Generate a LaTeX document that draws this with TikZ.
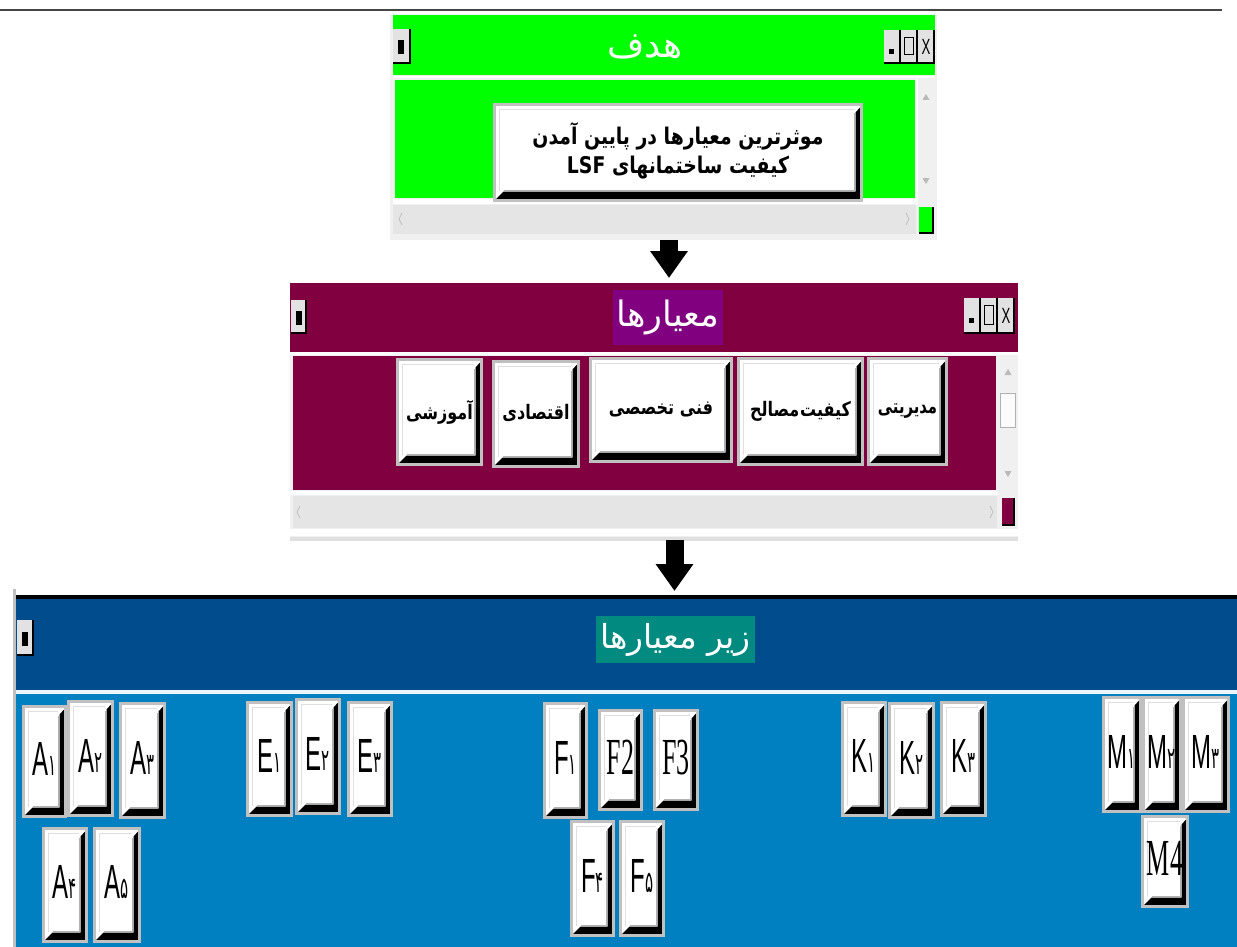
\documentclass[tikz,border=0pt]{standalone}
\usepackage{fontspec}
\usetikzlibrary{arrows.meta,calc}
\TeXXeTstate=1
\newfontfamily\fa[Script=Arabic]{DejaVu Sans}
\newfontfamily\lat{Liberation Sans}
\newfontfamily\ser{Liberation Serif}
\definecolor{gr}{HTML}{00FF00}
\definecolor{maroon}{HTML}{800040}
\definecolor{purp}{HTML}{800080}
\definecolor{dblue}{HTML}{004C8C}
\definecolor{lblue}{HTML}{0080C0}
\definecolor{teal2}{HTML}{008A80}
\definecolor{framec}{HTML}{F0F0F0}
\definecolor{bgray}{HTML}{C0C0C0}
\definecolor{ctrlc}{HTML}{E2E2E2}
\tikzset{
  btn/.style={draw=bgray, line width=3pt, fill=white, inner sep=0pt,
    path picture={
      \fill[black] let \p1=(path picture bounding box.south west), \p2=(path picture bounding box.north east) in
        (\x1+1.5pt,\y1+1.5pt) -- (\x2-1.5pt,\y1+1.5pt) -- (\x2-1.5pt,\y2-3pt) -- (\x2-6pt,\y2-8pt)
        -- (\x2-6pt,\y1+9pt) -- (\x1+9pt,\y1+9pt) -- cycle;
      \draw[gray!60, line width=1.5pt] let \p1=(path picture bounding box.south west), \p2=(path picture bounding box.north east) in
        (\x1+9pt,\y1+10pt) -- (\x2-7pt,\y1+10pt) -- (\x2-7pt,\y2-9pt);
      \draw[gray!25, line width=1.5pt] let \p1=(path picture bounding box.south west), \p2=(path picture bounding box.north east) in
        (\x1+5pt,\y1+10pt) -- (\x1+5pt,\y2-5pt) -- (\x2-8pt,\y2-5pt);
    }},
  wtitle/.style={text=white, inner sep=0pt, font=\fa},
  ctrl/.style={fill=ctrlc},
  shadowline/.style={black, line width=2pt},
  scrollarrow/.style={fill=gray!55, draw=none},
  bigarrow/.style={line width=18pt, -{Triangle[width=36pt,length=27pt]}},
}
\newcommand\btnat[6]{\node[btn, minimum width={(#4-#2-3)*1pt}, minimum height={(#5-#3-3)*1pt}] (#1) at ({(#2+#4)/2},{(#3+#5)/2}) {#6};}
\newcommand\lab[2]{\raisebox{6pt}{\scalebox{0.5}[1]{\fontsize{48}{48}\selectfont\lat #1\fa\fontsize{30}{30}\selectfont #2}}}
\newcommand\labs[1]{\raisebox{6pt}{\scalebox{0.5}[1]{\fontsize{52}{52}\selectfont\ser #1}}}
\newcommand\mlab[2][0.8]{\raisebox{4pt}{\scalebox{#1}[1]{\fa\bfseries\fontsize{20}{20}\selectfont\beginR #2\endR}}}
% small window buttons
\newcommand\sysbtn[4]{% x0 y0 x1 y1
  \fill[ctrlc] (#1,#2) rectangle (#3,#4);
  \draw[shadowline] (#1,#4) -- (#3,#4) -- (#3,#2);}
\newcommand\ctrls[3]{% x0 y0 y1 : three buttons of width 17
  \sysbtn{#1}{#2}{#1+16}{#3}
  \sysbtn{#1+17}{#2}{#1+33}{#3}
  \sysbtn{#1+34}{#2}{#1+50}{#3}
  \fill[black] ({#1+5},{#2+(#3-#2)*0.58}) rectangle ({#1+10},{#2+(#3-#2)*0.72});
  \draw[black, line width=1.3pt] ({#1+20.5},{#2+(#3-#2)*0.22}) rectangle ({#1+29.5},{#2+(#3-#2)*0.75});
  \node[inner sep=0pt] at ({#1+42},{(#2+#3)/2}) {\scalebox{0.6}[1]{\lat\fontsize{22}{22}\selectfont X}};}
\newcommand\leftbtn[4]{%
  \sysbtn{#1}{#2}{#3}{#4}
  \fill[black] ({#1+5},{#2+(#4-#2)*0.33}) rectangle ({#1+11},{#2+(#4-#2)*0.75});}
\newcommand\uptri[3]{\fill[scrollarrow] (#1-3.5,#2+3) -- (#1+3.5,#2+3) -- (#1,#2-3) -- cycle;}
\newcommand\dntri[3]{\fill[scrollarrow] (#1-3.5,#2-3) -- (#1+3.5,#2-3) -- (#1,#2+3) -- cycle;}
\newcommand\lftri[2]{\draw[gray!50, line width=0.8pt] (#1+2,#2-6) -- (#1-1,#2) -- (#1+2,#2+6);}
\newcommand\rttri[2]{\draw[gray!50, line width=0.8pt] (#1-2,#2-6) -- (#1+1,#2) -- (#1-2,#2+6);}
\begin{document}
\begin{tikzpicture}[x=1pt,y=-1pt]
\useasboundingbox (0,0) rectangle (1237,947);
\fill[white] (0,0) rectangle (1237,947);
\fill[gray!55!black] (0,9) rectangle (1222,11.5);

% ================= window 1 (goal) =================
\node[fill=framec, minimum width=547pt, minimum height=226pt, inner sep=0pt, anchor=north west] (gwin) at (390,14) {};
\fill[gr] (393,15) rectangle (935,75);
\fill[white] (393,76) rectangle (935,78);
\fill[gr] (395,80) rectangle (915,198);
\fill[white] (393,199) rectangle (917,204);
\fill[white] (916,79) rectangle (918,205);
\fill[framec!90!gray] (393,205) rectangle (916,234);
\fill[gr] (919,207) rectangle (933,233);
\draw[shadowline] (919,233) -- (933,233) -- (933,207);
\uptri{926}{97}{}
\dntri{926}{181}{}
\lftri{400}{219}
\rttri{908}{219}
\leftbtn{393}{29}{410}{63}
\ctrls{884}{30}{63}
\node[wtitle, font=\fa\fontsize{36}{36}\selectfont] (gtitle) at (645,47) {\beginR هدف\endR};
\btnat{goal}{493}{103}{863}{202}{\raisebox{5pt}{\scalebox{0.82}[1]{\fa\bfseries\fontsize{23}{29}\selectfont
  \begin{tabular}{@{}c@{}}\beginR موثرترین معیارها در پایین آمدن\endR\\ \beginR کیفیت ساختمانهای \beginL LSF\endL\endR\end{tabular}}}}

% arrow 1
\coordinate (a1s) at (669,240);
\coordinate (a1e) at (669,278);
\draw[bigarrow] (a1s) -- (a1e);

% ================= window 2 (criteria) =================
\node[fill=framec, minimum width=728pt, minimum height=257pt, inner sep=0pt, anchor=north west] (mwin) at (290,283) {};
\fill[maroon] (290,283) rectangle (1018,352);
\fill[white] (290,352) rectangle (1018,355);
\fill[maroon] (293,356) rectangle (996,490);
\fill[white] (290,491) rectangle (998,495);
\fill[framec!90!gray] (293,496) rectangle (997,528);
\fill[white] (290,529) rectangle (1018,536);
\fill[framec!85!gray] (290,537) rectangle (1018,541);
\fill[white!97!gray] (1000,393) rectangle (1015,427);
\draw[gray!60, line width=0.8pt] (1000,393) rectangle (1015,427);
\fill[maroon] (1002,498) rectangle (1014,525);
\draw[shadowline] (1002,525) -- (1014,525) -- (1014,498);
\uptri{1008}{372}{}
\dntri{1008}{474}{}
\lftri{298}{512}
\rttri{992}{512}
\leftbtn{291}{300}{306}{333}
\ctrls{964}{298}{333}
\node[wtitle, fill=purp, minimum width=110pt, minimum height=55pt, font=\fa\fontsize{35}{35}\selectfont] (mtitle) at (668,317) {\beginR معیارها\endR};
\btnat{c1}{396}{358}{483}{466}{\mlab{آموزشی}}
\btnat{c2}{492}{360}{580}{468}{\mlab{اقتصادی}}
\btnat{c3}{589}{357}{733}{463}{\mlab{فنی تخصصی}}
\btnat{c4}{737}{357}{864}{466}{\mlab{کیفیت\kern1pt مصالح}}
\btnat{c5}{867}{357}{948}{466}{\mlab[0.74]{مدیریتی}}

% arrow 2
\coordinate (a2s) at (674.5,540);
\coordinate (a2e) at (674.5,591);
\draw[bigarrow] (a2s) -- (a2e);

% ================= window 3 (sub-criteria) =================
\fill[gray!50] (13,589) rectangle (16,947);
\node[fill=dblue, minimum width=1221pt, minimum height=95pt, inner sep=0pt, anchor=north west] (bwin) at (16,596) {};
\fill[black] (16,595) rectangle (1237,598.5);
\fill[white!92!lblue] (16,690) rectangle (1237,694);
\fill[lblue] (16,694) rectangle (1237,947);
\leftbtn{17}{620}{33}{655}
\node[wtitle, fill=teal2, minimum width=159pt, minimum height=47pt, font=\fa\fontsize{33}{33}\selectfont] (btitle) at (675.5,639.5) {\beginR زیر معیارها\endR};

\btnat{A1}{22}{705}{67}{818}{\lab{A}{۱}}
\btnat{A2}{67}{700}{114}{817}{\lab{A}{۲}}
\btnat{A3}{119}{702}{166}{819}{\lab{A}{۳}}
\btnat{A4}{42}{827}{88}{943}{\lab{A}{۴}}
\btnat{A5}{93}{827}{141}{943}{\lab{A}{۵}}
\btnat{E1}{246}{701}{293}{817}{\lab{E}{۱}}
\btnat{E2}{295}{698}{341}{815}{\lab{E}{۲}}
\btnat{E3}{347}{701}{393}{817}{\lab{E}{۳}}
\btnat{F1}{543}{702}{588}{819}{\lab{F}{۱}}
\btnat{F2}{598}{709}{643}{811}{\labs{F2}}
\btnat{F3}{653}{709}{699}{811}{\labs{F3}}
\btnat{F4}{570}{820}{615}{937}{\lab{F}{۴}}
\btnat{F5}{619}{820}{665}{937}{\lab{F}{۵}}
\btnat{K1}{841}{701}{887}{817}{\lab{K}{۱}}
\btnat{K2}{888}{702}{935}{819}{\lab{K}{۲}}
\btnat{K3}{940}{701}{987}{817}{\lab{K}{۳}}
\btnat{M1}{1102}{696}{1142}{813}{\lab{M}{۱}}
\btnat{M2}{1142}{696}{1182}{813}{\lab{M}{۲}}
\btnat{M3}{1182}{696}{1230}{813}{\lab{M}{۳}}
\btnat{M4}{1141}{815}{1189}{908}{\labs{M4}}
\end{tikzpicture}
\end{document}
